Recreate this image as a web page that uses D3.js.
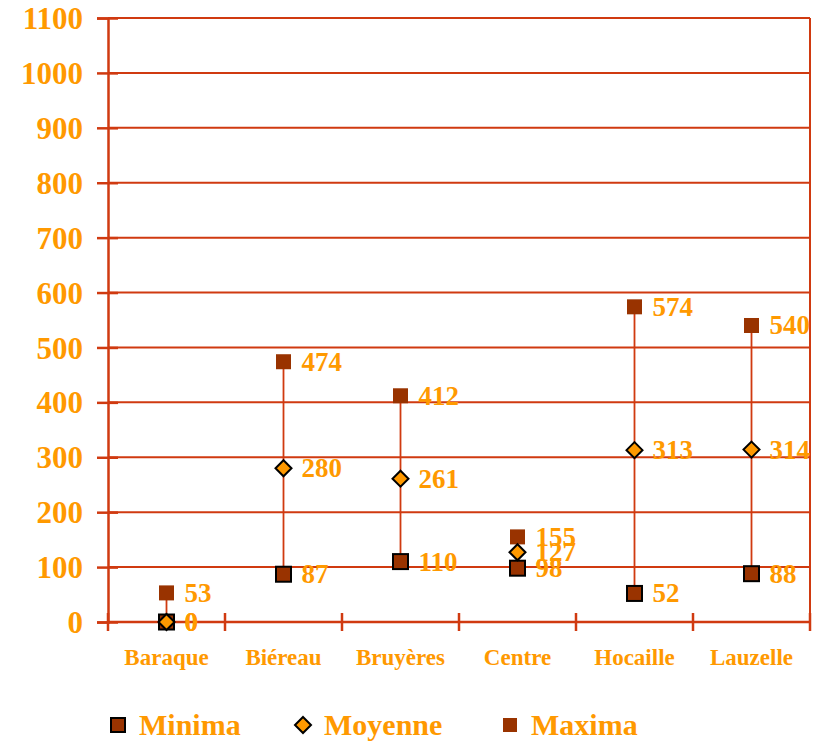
<!DOCTYPE html>
<html><head><meta charset="utf-8">
<script src="https://cdn.jsdelivr.net/npm/d3@7"></script>
<style>body{margin:0;background:#fff}svg{display:block}</style>
</head><body>
<svg id="c" width="814" height="742"></svg>
<script>
const categories = ["Baraque","Biéreau","Bruyères","Centre","Hocaille","Lauzelle"];
const minima  = [0, 87, 110, 98, 52, 88];
const moyenne = [0, 280, 261, 127, 313, 314];
const maxima  = [53, 474, 412, 155, 574, 540];
const yTicks = [0,100,200,300,400,500,600,700,800,900,1000,1100];
const seriesNames = ["Minima","Moyenne","Maxima"];

const svg = d3.select("#c");
const L=108, R=810, T=18, B=622;
const lineCol="#d03a10", textCol="#ff9900", darkFill="#993300", moyFill="#ff9900";
const font="'Liberation Serif','Times New Roman',serif";

const x = d3.scaleBand().domain(categories).range([L,R]);
const y = d3.scaleLinear().domain([0,1100]).range([B,T]);

// gridlines
svg.append("g").selectAll("line").data(yTicks).join("line")
  .attr("x1",L).attr("x2",R).attr("y1",d=>y(d)).attr("y2",d=>y(d))
  .attr("stroke",lineCol).attr("stroke-width",2);
// right border
svg.append("line").attr("x1",R).attr("x2",R).attr("y1",T).attr("y2",B)
  .attr("stroke",lineCol).attr("stroke-width",2);

// y axis
const yAxis = svg.append("g").attr("transform",`translate(${L},0)`)
  .call(d3.axisLeft(y).tickValues(yTicks).tickSize(11).tickPadding(14).tickFormat(d3.format("d")));
yAxis.select(".domain").attr("stroke",lineCol).attr("stroke-width",2.5);
yAxis.selectAll(".tick line").attr("stroke",lineCol).attr("stroke-width",2.5).attr("x2",10).attr("x1",-11);
yAxis.selectAll("text").attr("fill",textCol).attr("font-family",font).attr("font-weight","bold")
  .attr("font-size",31).attr("dy","0.34em");

// x axis
const bounds = categories.map(c=>x(c)).concat([R]);
const xg = svg.append("g");
xg.append("line").attr("x1",L).attr("x2",R).attr("y1",B).attr("y2",B).attr("stroke",lineCol).attr("stroke-width",2.5);
xg.selectAll("line.t").data(bounds).join("line").attr("class","t")
  .attr("x1",d=>d).attr("x2",d=>d).attr("y1",B-9).attr("y2",B+9)
  .attr("stroke",lineCol).attr("stroke-width",2.5);
xg.selectAll("text").data(categories).join("text")
  .attr("x",d=>x(d)+x.bandwidth()/2).attr("y",665).attr("text-anchor","middle")
  .attr("fill",textCol).attr("font-family",font).attr("font-weight","bold").attr("font-size",23)
  .text(d=>d);

const cx = c=>x(c)+x.bandwidth()/2;

// high-low lines
svg.append("g").selectAll("line").data(categories).join("line")
  .attr("x1",cx).attr("x2",cx).attr("y1",(d,i)=>y(minima[i])).attr("y2",(d,i)=>y(maxima[i]))
  .attr("stroke",lineCol).attr("stroke-width",1.8);

const sq=15;
// maxima squares
svg.append("g").selectAll("rect").data(categories).join("rect")
  .attr("x",d=>cx(d)-sq/2).attr("y",(d,i)=>y(maxima[i])-sq/2).attr("width",sq).attr("height",sq)
  .attr("fill",darkFill);
// minima squares
svg.append("g").selectAll("rect").data(categories).join("rect")
  .attr("x",d=>cx(d)-sq/2).attr("y",(d,i)=>y(minima[i])-sq/2).attr("width",sq).attr("height",sq)
  .attr("fill",darkFill).attr("stroke","#000").attr("stroke-width",2);
// moyenne diamonds
const dm=8;
svg.append("g").selectAll("path").data(categories).join("path")
  .attr("d",(d,i)=>{const X=cx(d),Y=y(moyenne[i]);return `M${X},${Y-dm}L${X+dm},${Y}L${X},${Y+dm}L${X-dm},${Y}Z`;})
  .attr("fill",moyFill).attr("stroke","#000").attr("stroke-width",2);

// labels
function labels(arr){
  svg.append("g").selectAll("text").data(categories).join("text")
    .attr("x",d=>cx(d)+18).attr("y",(d,i)=>y(arr[i])+9)
    .attr("fill",textCol).attr("font-family",font).attr("font-weight","bold").attr("font-size",27)
    .text((d,i)=>arr[i]);
}
labels(maxima); labels(moyenne); labels(minima);

// legend
const lg = svg.append("g");
const legX=[118,303,510], legY=725;
lg.append("rect").attr("x",legX[0]-7).attr("y",legY-7).attr("width",14).attr("height",14)
  .attr("fill",darkFill).attr("stroke","#000").attr("stroke-width",2);
lg.append("path").attr("d",`M${legX[1]},${legY-8}L${legX[1]+8},${legY}L${legX[1]},${legY+8}L${legX[1]-8},${legY}Z`)
  .attr("fill",moyFill).attr("stroke","#000").attr("stroke-width",2);
lg.append("rect").attr("x",legX[2]-7).attr("y",legY-7).attr("width",14).attr("height",14).attr("fill",darkFill);
lg.selectAll("text").data(seriesNames).join("text")
  .attr("x",(d,i)=>legX[i]+21).attr("y",legY+10)
  .attr("fill",textCol).attr("font-family",font).attr("font-weight","bold").attr("font-size",30)
  .text(d=>d);
</script>
</body></html>
